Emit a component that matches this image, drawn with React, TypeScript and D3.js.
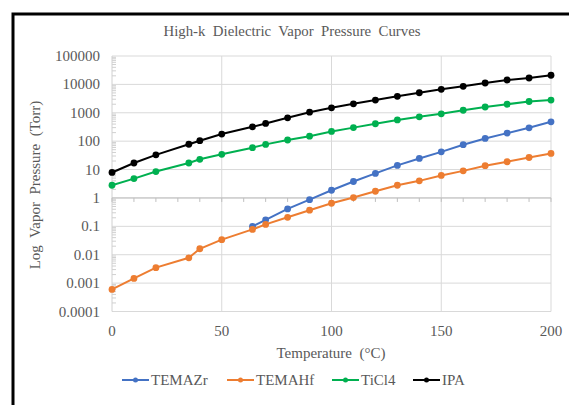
import React from 'react';
import * as d3 from 'd3';

const title = 'High-k  Dielectric  Vapor  Pressure  Curves';
const xTitle = 'Temperature  (°C)';
const yTitle = 'Log  Vapor  Pressure  (Torr)';

// temperatures (°C)
const temps = [0, 10, 20, 35, 40, 50, 64, 70, 80, 90, 100, 110, 120, 130, 140, 150, 160, 170, 180, 190, 200];
const tempsZr = [64, 70, 80, 90, 100, 110, 120, 130, 140, 150, 160, 170, 180, 190, 200];

const temazr = [0.1, 0.17, 0.41, 0.87, 1.87, 3.8, 7.3, 14, 24.6, 42, 75, 125, 192, 295, 481];
const temahf = [0.0006, 0.00146, 0.0035, 0.0078, 0.0162, 0.034, 0.078, 0.117, 0.208, 0.37, 0.65, 1.03, 1.72, 2.8, 4.0, 6.2, 9.0, 13.7, 18.8, 26.6, 37];
const ticl4 = [2.8, 4.8, 8.5, 17, 23, 34.5, 59, 77, 110, 150, 220, 300, 410, 560, 720, 920, 1230, 1600, 2000, 2500, 2800];
const ipa = [7.9, 17, 33, 78, 104, 178, 320, 420, 664, 1050, 1500, 2075, 2800, 3800, 5080, 6700, 8550, 11200, 14300, 16800, 21000];

const seriesNames = ['TEMAZr', 'TEMAHf', 'TiCl4', 'IPA'];
const seriesColors = ['#4472c4', '#ed7d31', '#00b050', '#000000'];

const yTicks = [100000, 10000, 1000, 100, 10, 1, 0.1, 0.01, 0.001, 0.0001];
const yTickLabels = ['100000', '10000', '1000', '100', '10', '1', '0.1', '0.01', '0.001', '0.0001'];
const xTicks = [0, 50, 100, 150, 200];

const W = 569;
const H = 405;
const FONT = '"Liberation Serif", "Times New Roman", serif';
const TEXT = '#595959';

export default function App() {
  const x = d3.scaleLinear().domain([0, 200]).range([112, 551]);
  const y = d3.scaleLog().domain([1e-4, 1e5]).range([311.5, 56]);

  const series = [
    { name: seriesNames[0], color: seriesColors[0], pts: tempsZr.map((t, i) => [t, temazr[i]]) },
    { name: seriesNames[1], color: seriesColors[1], pts: temps.map((t, i) => [t, temahf[i]]) },
    { name: seriesNames[2], color: seriesColors[2], pts: temps.map((t, i) => [t, ticl4[i]]) },
    { name: seriesNames[3], color: seriesColors[3], pts: temps.map((t, i) => [t, ipa[i]]) },
  ];

  const line = d3
    .line<number[]>()
    .x(d => x(d[0]))
    .y(d => y(d[1]));

  // log minor ticks on the vertical axis
  const minor: number[] = [];
  for (let e = -4; e < 5; e++) {
    for (let k = 2; k <= 9; k++) minor.push(k * Math.pow(10, e));
  }
  const xMinor = d3.range(0, 201, 10);

  const legendX = [122, 227, 332, 413];

  return (
    <svg
      width={W}
      height={H}
      style={{ position: 'absolute', left: 0, top: 0, background: '#fff' }}
      fontFamily={FONT}
    >
      <rect x={13} y={14} width={600} height={420} fill="#fff" stroke="#000" strokeWidth={3} />

      <text x={292} y={36} textAnchor="middle" fontSize={14.8} fill={TEXT} style={{ whiteSpace: 'pre' }}>
        {title}
      </text>

      {/* grid */}
      {yTicks.map(v => (
        <line key={'gy' + v} x1={x(0)} x2={x(200)} y1={y(v)} y2={y(v)} stroke="#d9d9d9" strokeWidth={1} />
      ))}
      {xTicks.slice(1).map(v => (
        <line key={'gx' + v} x1={x(v)} x2={x(v)} y1={y(1e5)} y2={y(1e-4)} stroke="#d9d9d9" strokeWidth={1} />
      ))}

      {/* vertical axis */}
      <line x1={x(0)} x2={x(0)} y1={y(1e5)} y2={y(1e-4)} stroke="#d0d0d0" strokeWidth={1} />
      {minor.map(v => (
        <line key={'my' + v} x1={x(0)} x2={x(0) + 4} y1={y(v)} y2={y(v)} stroke="#d0d0d0" strokeWidth={1} />
      ))}

      {/* horizontal axis crossing at 1 */}
      <line x1={x(0)} x2={x(200)} y1={y(1)} y2={y(1)} stroke="#bfbfbf" strokeWidth={1} />
      {xMinor.map(v => (
        <line key={'mx' + v} x1={x(v)} x2={x(v)} y1={y(1)} y2={y(1) + 4} stroke="#bfbfbf" strokeWidth={1} />
      ))}

      {yTicks.map((v, i) => (
        <text key={'ly' + v} x={100} y={y(v) + 5} textAnchor="end" fontSize={15} fill={TEXT}>
          {yTickLabels[i]}
        </text>
      ))}
      {xTicks.map(v => (
        <text key={'lx' + v} x={x(v)} y={336} textAnchor="middle" fontSize={15} fill={TEXT}>
          {v}
        </text>
      ))}

      <text x={331} y={358} textAnchor="middle" fontSize={15} fill={TEXT} style={{ whiteSpace: 'pre' }}>
        {xTitle}
      </text>
      <text
        transform={`translate(40,185) rotate(-90)`}
        textAnchor="middle"
        fontSize={15}
        fill={TEXT}
        style={{ whiteSpace: 'pre' }}
      >
        {yTitle}
      </text>

      {/* series */}
      {series.map(s => (
        <g key={s.name}>
          <path d={line(s.pts) || ''} fill="none" stroke={s.color} strokeWidth={2} />
          {s.pts.map((p, i) => (
            <circle key={i} cx={x(p[0])} cy={y(p[1])} r={3.4} fill={s.color} />
          ))}
        </g>
      ))}

      {/* legend */}
      {series.map((s, i) => (
        <g key={'lg' + s.name} transform={`translate(${legendX[i]},380)`}>
          <line x1={0} x2={27} y1={0} y2={0} stroke={s.color} strokeWidth={2} />
          <circle cx={13.5} cy={0} r={2.5} fill={s.color} />
          <text x={29} y={5} fontSize={15} fill={TEXT}>
            {s.name}
          </text>
        </g>
      ))}
    </svg>
  );
}
